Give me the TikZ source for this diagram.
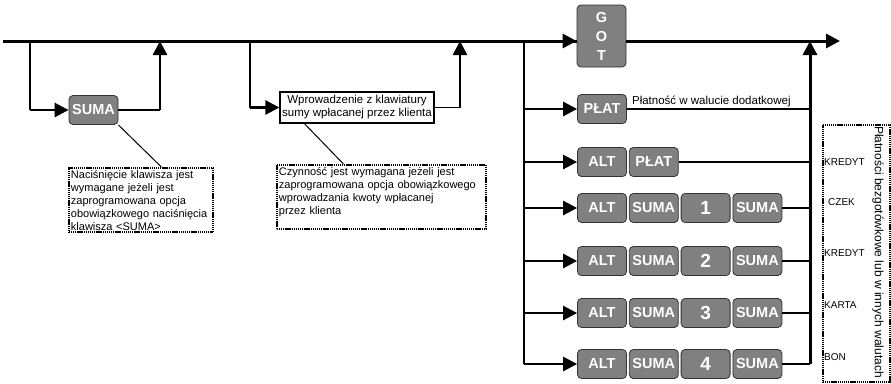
\documentclass[tikz,border=0pt]{standalone}
\usepackage{fontspec}
\setmainfont{Liberation Sans}
\usepackage{xcolor}
\usepackage{tikz}
\usetikzlibrary{shapes, arrows.meta, positioning, calc}

\tikzset{
  key/.style={draw=black!80, fill=gray, rounded corners=4pt, line width=0.8pt,
    text=white, font=\bfseries\fontsize{14.5}{14.5}\selectfont,
    minimum width=49pt, minimum height=29pt, inner sep=1pt},
  digit/.style={key, font=\bfseries\fontsize{19}{19}\selectfont},
  entry/.style={draw, line width=1.2pt, fill=white, align=center,
    font=\fontsize{11.5}{13}\selectfont, minimum width=154pt, minimum height=31pt, inner sep=1pt},
  frame/.style={draw, dash pattern=on 1.2pt off 0.7pt, line width=1.9pt},
  note/.style={frame, align=left, font=\fontsize{11}{13}\selectfont, inner sep=2pt},
  small/.style={font=\fontsize{11.5}{13}\selectfont, inner sep=1pt},
  tag/.style={font=\fontsize{10}{12}\selectfont, inner sep=1pt},
  main/.style={line width=3pt},
  rail/.style={line width=1.3pt},
  leader/.style={line width=1pt},
  flow/.style={line width=2.6pt, -{Triangle[length=14pt,width=14pt]}},
}

\begin{document}
\begin{tikzpicture}[x=1pt, y=-1pt]
  \useasboundingbox (0,0) rectangle (891,383);

  % Points on the main line
  \coordinate (start) at (3,41);
  \coordinate (end) at (840,41);
  \coordinate (A1) at (30,41);
  \coordinate (B1) at (160,41);
  \coordinate (A2) at (250,41);
  \coordinate (B2) at (460,41);
  \coordinate (A3) at (524,41);
  \coordinate (B3) at (810,41);

  % Cash key and main line
  \node[key, minimum height=62pt, align=center, font=\bfseries\fontsize{14.5}{19}\selectfont] (got) at (601.5,36) {G\\O\\T};
  \draw[main] (start) -- (got.west |- start);
  \draw[flow, line width=3pt] (A3) -- (got.west |- start);
  \draw[flow, line width=3pt] (got.east |- end) -- (end);

  % First optional step
  \node[key] (suma0) at (93.5,110) {SUMA};
  \draw[rail] (A1) -- (A1 |- suma0.west);
  \draw[flow] (A1 |- suma0.west) -- (suma0.west);
  \draw[rail] (suma0.east) -- (suma0.east -| B1);
  \draw[flow] (suma0.east -| B1) -- (B1);

  % Second optional step
  \node[entry] (amount) at (357,107.5) {Wprowadzenie z klawiatury\\sumy wpłacanej przez klienta};
  \draw[rail] (A2) -- (A2 |- amount.west);
  \draw[flow] (A2 |- amount.west) -- (amount.west);
  \draw[rail] (amount.east) -- (amount.east -| B2);
  \draw[flow] (amount.east -| B2) -- (B2);

  % Notes
  \node[note, anchor=north west, text width=140pt] (note1) at (68,167)
    {Naciśnięcie klawisza jest\\wymagane jeżeli jest\\zaprogramowana opcja\\obowiązkowego naciśnięcia\\klawisza <SUMA>};
  \node[note, anchor=north west, text width=205pt] (note2) at (276,164)
    {Czynność jest wymagana jeżeli jest\\zaprogramowana opcja obowiązkowego\\wprowadzania kwoty wpłacanej\\przez klienta\\\mbox{}};
  \draw[leader] (suma0.south east) -- ($(note1.north west)!0.64!(note1.north east)$);
  \draw[leader] ($(amount.south west)+(25,0)$) -- ($(note2.north west)!0.32!(note2.north east)$);

  % Payment rows
  \node[key] (plat) at (602,109) {PŁAT};
  \node[key] (alt0) at (602,162) {ALT};
  \node[key, right=2pt of alt0] (plat0) {PŁAT};

  \node[key] (alt1) at (602,208) {ALT};
  \node[key, right=2pt of alt1] (suma1a) {SUMA};
  \node[digit, right=2pt of suma1a] (num1) {1};
  \node[key, right=2pt of num1] (suma1b) {SUMA};

  \node[key] (alt2) at (602,261) {ALT};
  \node[key, right=2pt of alt2] (suma2a) {SUMA};
  \node[digit, right=2pt of suma2a] (num2) {2};
  \node[key, right=2pt of num2] (suma2b) {SUMA};

  \node[key] (alt3) at (602,313) {ALT};
  \node[key, right=2pt of alt3] (suma3a) {SUMA};
  \node[digit, right=2pt of suma3a] (num3) {3};
  \node[key, right=2pt of num3] (suma3b) {SUMA};

  \node[key] (alt4) at (602,364) {ALT};
  \node[key, right=2pt of alt4] (suma4a) {SUMA};
  \node[digit, right=2pt of suma4a] (num4) {4};
  \node[key, right=2pt of num4] (suma4b) {SUMA};

  % Left rail
  \draw[rail] (A3) -- (A3 |- alt4.west);
  \foreach \k in {plat, alt0, alt1, alt2, alt3, alt4}
    \draw[flow] (A3 |- \k.west) -- (\k.west);

  % Right rail
  \draw[rail] (plat.east) -- (plat.east -| B3);
  \node[small, anchor=base west] (platnote) at ($(plat.east)+(4,-5)$) {Płatność w walucie dodatkowej};
  \foreach \k in {plat0, suma1b, suma2b, suma3b, suma4b}
    \draw[rail] (\k.east) -- (\k.east -| B3);
  \draw[flow, line width=3pt] (B3 |- suma4b.east) -- (B3);

  % Other tenders
  \node[frame, anchor=north west, minimum width=67pt, minimum height=257pt] (other) at (822,124) {};
  \node[tag, anchor=west] (t1) at (823,162) {KREDYT};
  \node[tag, anchor=west] (t2) at (827,202) {CZEK};
  \node[tag, anchor=west] (t3) at (823,253) {KREDYT};
  \node[tag, anchor=west] (t4) at (823,305) {KARTA};
  \node[tag, anchor=west] (t5) at (823,357) {BON};
  \node[small, rotate=-90, font=\fontsize{12}{13}\selectfont] (title) at (878,252) {Płatności bezgotówkowe lub w innych walutach};
\end{tikzpicture}
\end{document}
